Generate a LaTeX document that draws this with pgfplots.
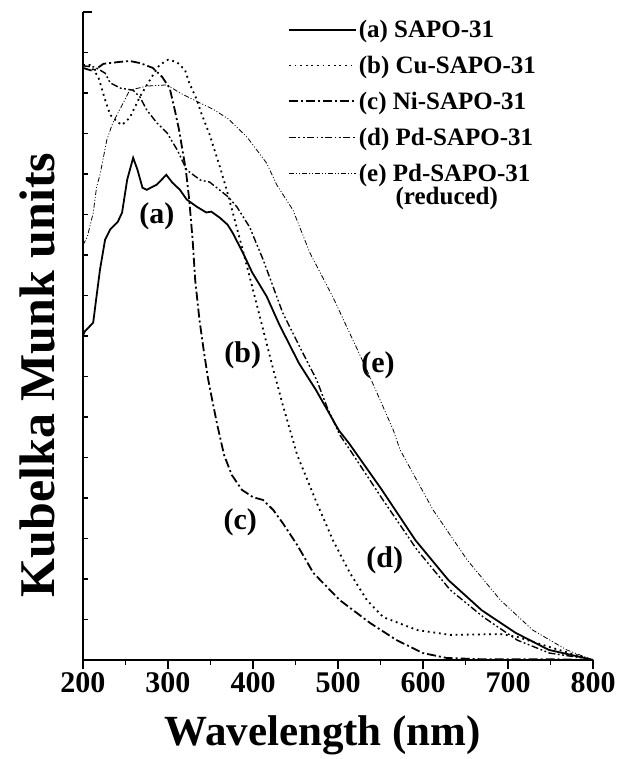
\documentclass[border=0pt]{standalone}
\usepackage{fontspec}
\setmainfont{Liberation Serif}
\usepackage{pgfplots}
\pgfplotsset{compat=1.18}

\tikzset{
  ca/.style={black, line width=1.8pt},
  cb/.style={black, line width=1.8pt, dash pattern=on 1.8pt off 3.8pt},
  cc/.style={black, line width=1.8pt, dash pattern=on 9pt off 3pt on 2pt off 3pt},
  cd/.style={black, line width=1.4pt, dash pattern=on 7pt off 2.5pt on 1.8pt off 2.5pt on 1.8pt off 2.5pt},
  ce/.style={black, line width=0.8pt, dash pattern=on 5pt off 2pt on 1pt off 2pt on 1pt off 2pt},
}

\begin{document}
\begin{tikzpicture}
\useasboundingbox (-83pt,-99pt) rectangle (536pt,660pt);
\begin{axis}[
  at={(0pt,0pt)}, anchor=south west,
  scale only axis, width=510pt, height=648pt,
  xmin=200, xmax=800, ymin=0, ymax=16,
  axis x line*=bottom, axis y line*=left,
  axis line style={-, line width=1.5pt},
  xtick={200,300,...,800}, minor x tick num=1,
  ytick={0,16}, yticklabels={}, minor y tick num=15,
  xtick align=outside, ytick align=inside,
  major tick length=9pt, minor tick length=5pt,
  tick style={line width=1.5pt, black},
  minor tick style={line width=1.5pt, black},
  /pgf/number format/assume math mode=true,
  xticklabel style={font=\fontsize{30}{32}\selectfont\bfseries},
  xlabel={Wavelength (nm)},
  xlabel style={font=\fontsize{43}{46}\selectfont\bfseries, at={(axis description cs:0.47,0)}, anchor=base, yshift=-85pt},
  ylabel={Kubelka Munk units},
  ylabel style={font=\fontsize{50}{52}\selectfont\bfseries, at={(axis description cs:-0.09,0.44)}, anchor=center},
  legend style={at={(axis cs:441,15.85)}, anchor=north west, draw=none, fill=none,
    font=\fontsize{25}{27}\selectfont\bfseries, row sep=13pt, inner sep=0pt,
    nodes={inner sep=2pt}},
  legend cell align=left,
  legend image code/.code={\draw[#1] (0pt,0pt) -- (67pt,0pt);},
]

% (a) SAPO-31
\addplot[ca] coordinates {
(200,8.01)(202,8.11)(212,8.33)(215,8.83)(220,9.64)(226,10.38)(232,10.63)(241,10.82)
(246,11.05)(252,11.86)(259,12.40)(264,12.11)(270,11.66)(275,11.61)(287,11.74)(298,11.98)
(305,11.79)(314,11.61)(322,11.37)(334,11.19)(345,11.05)(351,11.07)(361,10.92)(370,10.75)
(376,10.55)(388,10.06)(399,9.57)(416,8.98)(431,8.28)(454,7.33)(474,6.67)(501,5.67)
(513,5.35)(552,4.19)(591,2.96)(630,1.97)(669,1.23)(709,0.67)(748,0.25)(786,0.07)(800,0)
};
\addlegendentry{(a) SAPO-31}

% (b) Cu-SAPO-31
\addplot[cb] coordinates {
(200,14.69)(208,14.69)(218,14.40)(226,13.83)(232,13.46)(240,13.29)(246,13.21)(255,13.39)
(267,13.91)(281,14.40)(290,14.69)(300,14.82)(310,14.77)(320,14.57)(325,14.25)(334,13.83)
(339,13.51)(349,12.97)(361,12.18)(369,11.61)(380,10.75)(388,10.12)(400,9.14)(412,8.15)
(424,7.16)(435,6.30)(452,5.06)(475,3.88)(494,2.96)(514,2.15)(534,1.48)(553,1.06)
(593,0.74)(632,0.62)(691,0.64)(711,0.57)(749,0.32)(788,0.07)(800,0)
};
\addlegendentry{(b) Cu-SAPO-31}

% (c) Ni-SAPO-31
\addplot[cc] coordinates {
(200,14.62)(212,14.54)(224,14.72)(244,14.77)(255,14.79)(267,14.74)(282,14.62)(293,14.40)
(302,14.12)(308,13.58)(313,13.09)(317,12.59)(321,12.10)(325,11.36)(329,10.37)(332,9.38)
(337,8.40)(342,7.65)(347,6.96)(352,6.42)(358,5.80)(366,5.06)(375,4.57)(387,4.20)
(400,4.02)(412,3.95)(424,3.70)(435,3.38)(452,2.84)(471,2.15)(502,1.48)(538,0.91)
(569,0.49)(600,0.17)(628,0.05)(667,0.02)(746,0.02)(800,0)
};
\addlegendentry{(c) Ni-SAPO-31}

% (d) Pd-SAPO-31
\addplot[cd] coordinates {
(200,14.67)(214,14.64)(226,14.49)(232,14.25)(244,14.12)(259,14.07)(267,13.90)(275,13.58)
(287,13.26)(299,13.01)(311,12.59)(322,12.10)(338,11.85)(349,11.80)(361,11.60)(371,11.43)
(381,11.19)(396,10.69)(412,9.88)(435,8.57)(455,7.73)(475,6.91)(487,6.25)(502,5.56)
(514,5.19)(553,3.95)(593,2.72)(632,1.73)(671,1.06)(711,0.49)(749,0.17)(788,0.05)(800,0)
};
\addlegendentry{(d) Pd-SAPO-31}

% (e) Pd-SAPO-31 (reduced)
\addplot[ce] coordinates {
(200,10.25)(205,10.44)(212,11.04)(216,11.68)(220,11.98)(228,12.84)(235,13.26)(246,13.70)
(255,14.07)(275,14.17)(299,14.20)(314,14.00)(338,13.75)(353,13.60)(371,13.36)(393,12.91)
(416,12.27)(428,11.73)(447,11.11)(467,10.05)(494,8.96)(534,7.16)(565,5.68)(573,5.19)
(612,3.70)(652,2.47)(691,1.48)(729,0.74)(769,0.25)(800,0)
};
\addlegendentry{(e) Pd-SAPO-31}

\node[font=\fontsize{25}{27}\selectfont\bfseries] at (axis cs:628,11.40) {(reduced)};

\node[font=\fontsize{30}{32}\selectfont\bfseries] at (axis cs:287,10.96) {(a)};
\node[font=\fontsize{30}{32}\selectfont\bfseries] at (axis cs:388,7.53) {(b)};
\node[font=\fontsize{30}{32}\selectfont\bfseries] at (axis cs:385,3.41) {(c)};
\node[font=\fontsize{30}{32}\selectfont\bfseries] at (axis cs:555,2.47) {(d)};
\node[font=\fontsize{30}{32}\selectfont\bfseries] at (axis cs:547,7.28) {(e)};

\end{axis}
\end{tikzpicture}
\end{document}
